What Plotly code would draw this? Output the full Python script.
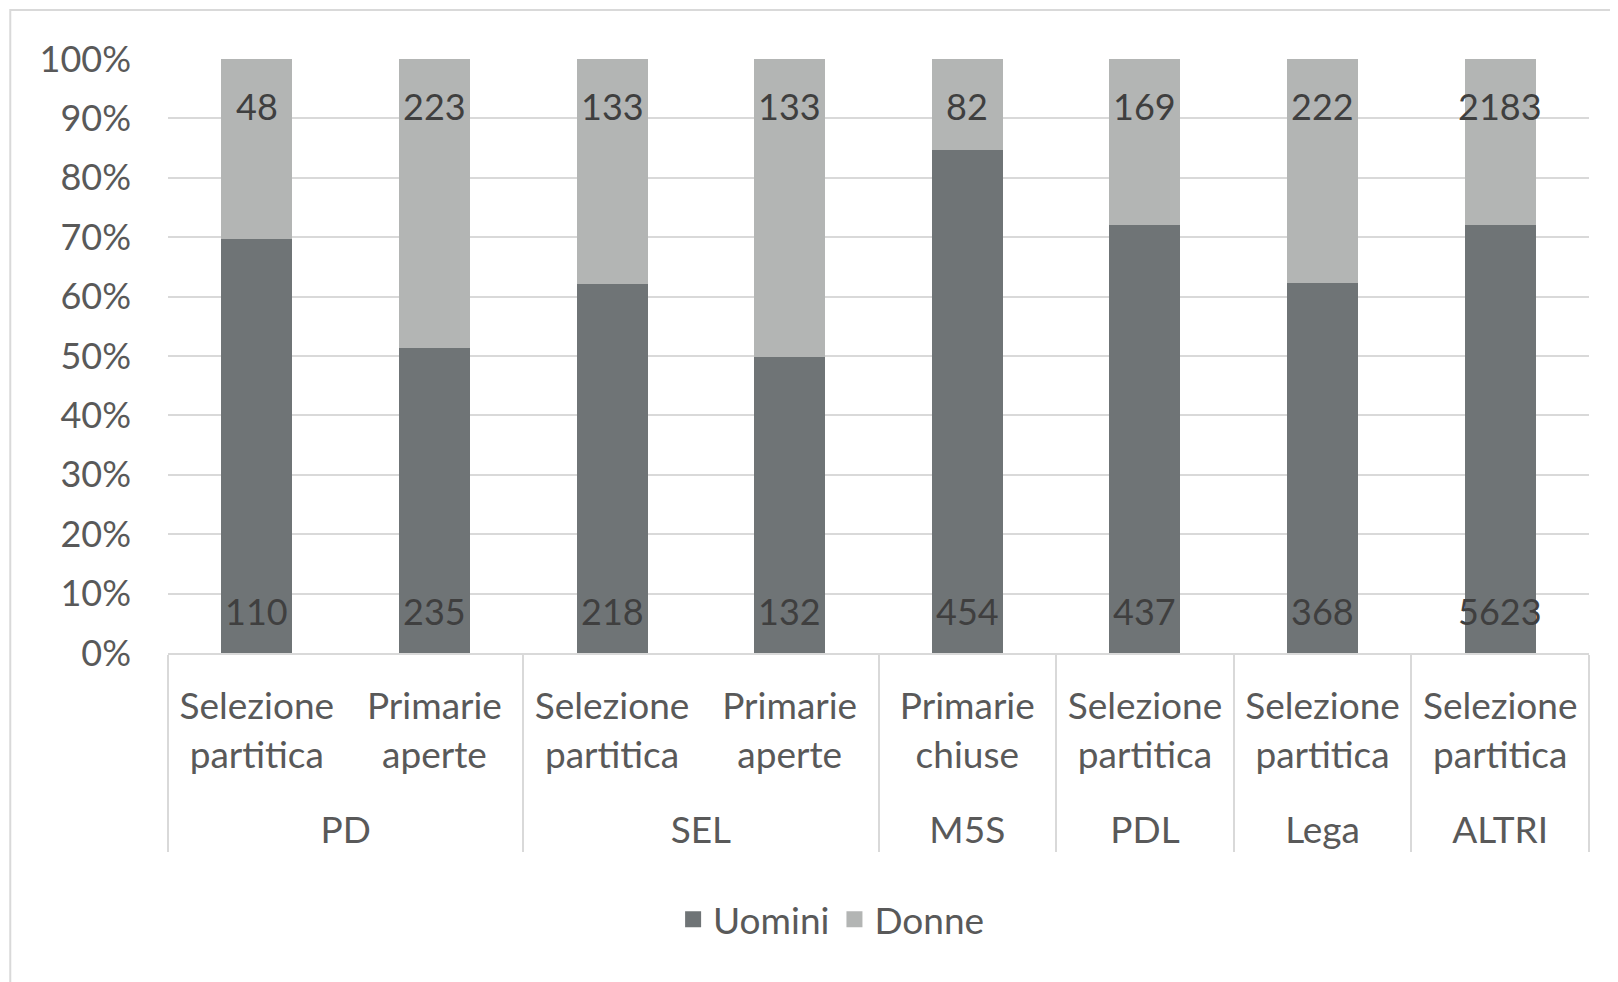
import plotly.graph_objects as go

parties = ["PD", "PD", "SEL", "SEL", "M5S", "PDL", "Lega", "ALTRI"]
methods = ["Selezione<br>partitica", "Primarie<br>aperte", "Selezione<br>partitica",
           "Primarie<br>aperte", "Primarie<br>chiuse", "Selezione<br>partitica",
           "Selezione<br>partitica", "Selezione<br>partitica"]
uomini = [110, 235, 218, 132, 454, 437, 368, 5623]
donne = [48, 223, 133, 133, 82, 169, 222, 2183]
series_names = ["Uomini", "Donne"]

FONT = "Lato"
TXT = "#595959"
LBL = "#3f3f3f"
C_U = "#6f7476"
C_D = "#b3b5b4"
GRID = "#d9d9d9"
FS = 37

party_labels = ["<br>" + p for p in parties]

fig = go.Figure()
fig.add_trace(go.Bar(name=series_names[0], x=[party_labels, methods], y=uomini,
                     marker=dict(color=C_U, line=dict(width=0)), showlegend=False))
fig.add_trace(go.Bar(name=series_names[1], x=[party_labels, methods], y=donne,
                     marker=dict(color=C_D, line=dict(width=0)), showlegend=False))
# legend entries (square swatches)
for nm, col in zip(series_names, [C_U, C_D]):
    fig.add_trace(go.Scatter(name=nm, x=[None], y=[None], mode="markers",
                             marker=dict(symbol="square", size=18, color=col,
                                         line=dict(width=0)),
                             showlegend=True, hoverinfo="skip"))

annotations = []
for i, (u, d) in enumerate(zip(uomini, donne)):
    annotations.append(dict(x=i, y=0, xref="x", yref="y", text=str(u), showarrow=False,
                            yanchor="middle", yshift=42,
                            font=dict(family=FONT, size=36, color=LBL)))
    annotations.append(dict(x=i, y=100, xref="x", yref="y", text=str(d), showarrow=False,
                            yanchor="middle", yshift=-47,
                            font=dict(family=FONT, size=36, color=LBL)))

fig.update_layout(
    barmode="stack",
    barnorm="percent",
    bargap=0.6,
    width=1618, height=982,
    margin=dict(l=160, r=37, t=51, b=337),
    paper_bgcolor="white",
    plot_bgcolor="white",
    font=dict(family=FONT, size=FS, color=TXT),
    annotations=annotations,
    legend=dict(orientation="h", x=0.467, xanchor="center", y=-0.449, yanchor="middle",
                font=dict(family=FONT, size=FS, color=TXT), traceorder="normal",
                itemsizing="trace"),
    shapes=[dict(type="rect", xref="paper", yref="paper", x0=-0.111, x1=1.2,
                 y0=-1.0, y1=1.0825, line=dict(color=GRID, width=2), layer="below")],
)
fig.update_yaxes(range=[0, 100], dtick=10, ticksuffix="%", showgrid=True,
                 gridcolor=GRID, gridwidth=2, zeroline=False, showline=False,
                 ticklabelstandoff=36, tickfont=dict(family=FONT, size=36, color=TXT))
fig.update_xaxes(type="multicategory", showline=True, linecolor=GRID, linewidth=2,
                 showdividers=True, dividercolor=GRID, dividerwidth=2,
                 ticklabelstandoff=20,
                 tickfont=dict(family=FONT, size=FS, color=TXT))

fig.write_html("out.html")
